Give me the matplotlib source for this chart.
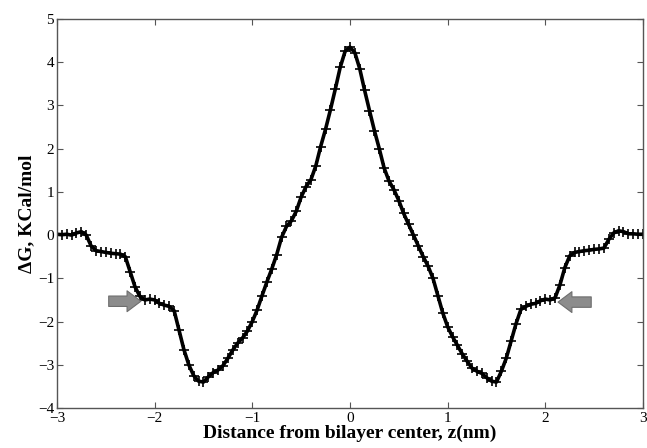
import numpy as np
import matplotlib
matplotlib.use("Agg")
import matplotlib.pyplot as plt

plt.rcParams['font.family'] = ['Liberation Serif', 'DejaVu Serif']

# distance from bilayer centre (nm) and free energy (kcal/mol)
z = [-3.00, -2.95, -2.90, -2.85, -2.80, -2.75, -2.70, -2.65, -2.60, -2.55,
     -2.50, -2.45, -2.40, -2.35, -2.30, -2.25, -2.20, -2.15, -2.10, -2.05,
     -2.00, -1.95, -1.90, -1.85, -1.80, -1.75, -1.70, -1.65, -1.60, -1.55,
     -1.50, -1.45, -1.40, -1.35, -1.30, -1.25, -1.20, -1.15, -1.10, -1.05,
     -1.00, -0.95, -0.90, -0.85, -0.80, -0.75, -0.70, -0.65, -0.60, -0.55,
     -0.50, -0.45, -0.40, -0.35, -0.30, -0.25, -0.20, -0.15, -0.10, -0.05,
     0.00, 0.05, 0.10, 0.15, 0.20, 0.25, 0.30, 0.35, 0.40, 0.45,
     0.50, 0.55, 0.60, 0.65, 0.70, 0.75, 0.80, 0.85, 0.90, 0.95,
     1.00, 1.05, 1.10, 1.15, 1.20, 1.25, 1.30, 1.35, 1.40, 1.45,
     1.50, 1.55, 1.60, 1.65, 1.70, 1.75, 1.80, 1.85, 1.90, 1.95,
     2.00, 2.05, 2.10, 2.15, 2.20, 2.25, 2.30, 2.35, 2.40, 2.45,
     2.50, 2.55, 2.60, 2.65, 2.70, 2.75, 2.80, 2.85, 2.90, 2.95, 3.00]
dG = [0.02, 0.01, 0.02, 0.00, 0.05, 0.08, 0.00, -0.25, -0.36, -0.38,
      -0.40, -0.42, -0.43, -0.44, -0.50, -0.85, -1.20, -1.42, -1.50, -1.48,
      -1.50, -1.58, -1.62, -1.65, -1.75, -2.20, -2.65, -3.00, -3.25, -3.38,
      -3.40, -3.28, -3.18, -3.12, -3.02, -2.85, -2.66, -2.50, -2.38, -2.22,
      -2.00, -1.73, -1.40, -1.08, -0.78, -0.45, -0.05, 0.20, 0.33, 0.55,
      0.88, 1.12, 1.28, 1.60, 2.05, 2.45, 2.90, 3.38, 3.88, 4.25,
      4.35, 4.22, 3.85, 3.35, 2.88, 2.42, 2.00, 1.55, 1.25, 1.05,
      0.80, 0.50, 0.25, 0.00, -0.25, -0.50, -0.72, -1.00, -1.40, -1.80,
      -2.12, -2.35, -2.55, -2.75, -2.92, -3.08, -3.15, -3.20, -3.30, -3.38,
      -3.40, -3.15, -2.85, -2.45, -2.05, -1.72, -1.65, -1.60, -1.58, -1.52,
      -1.48, -1.50, -1.45, -1.15, -0.75, -0.48, -0.40, -0.38, -0.36, -0.35,
      -0.33, -0.32, -0.30, -0.10, 0.05, 0.10, 0.08, 0.03, 0.03, 0.02, 0.02]

# arrows marking the shoulders: (tail x, head x, y)
arrows = [(-2.47, -2.14, -1.53), (2.47, 2.13, -1.55)]

fig = plt.figure(figsize=(6.47, 4.48), dpi=100)
ax = fig.add_axes([0.088, 0.0893, 0.9058, 0.8683])

ax.plot(z, dG, color='black', lw=2.6, marker='+', ms=7, mew=1.2)

for x0, x1, y in arrows:
    ax.annotate('', xy=(x1, y), xytext=(x0, y),
                arrowprops=dict(arrowstyle='simple,head_length=1.0,head_width=1.5,tail_width=0.75',
                                fc='#8c8c8c', ec='#6e6e6e', lw=0.8, shrinkA=0, shrinkB=0))

ax.set_xlim(-3, 3)
ax.set_ylim(-4, 5)
ax.set_xticks(range(-3, 4))
ax.set_yticks(range(-4, 6))
ax.set_xticklabels(['\u22123', '\u22122', '\u22121', '0', '1', '2', '3'])
ax.set_yticklabels(['\u22124', '\u22123', '\u22122', '\u22121', '0', '1', '2', '3', '4', '5'])
ax.tick_params(direction='in', length=4, width=0.8, top=True, right=True,
               labelsize=11, color='#555555')
ax.tick_params(axis='x', pad=3)
ax.tick_params(axis='y', pad=2)
for s in ax.spines.values():
    s.set_color('#555555')
    s.set_linewidth(1.0)

ax.set_xlabel('Distance from bilayer center, z(nm)', fontsize=14, fontweight='bold', labelpad=0)
ax.set_ylabel('\u0394G, KCal/mol', fontsize=14, fontweight='bold', labelpad=2)

fig.savefig('out.png', dpi=100)
